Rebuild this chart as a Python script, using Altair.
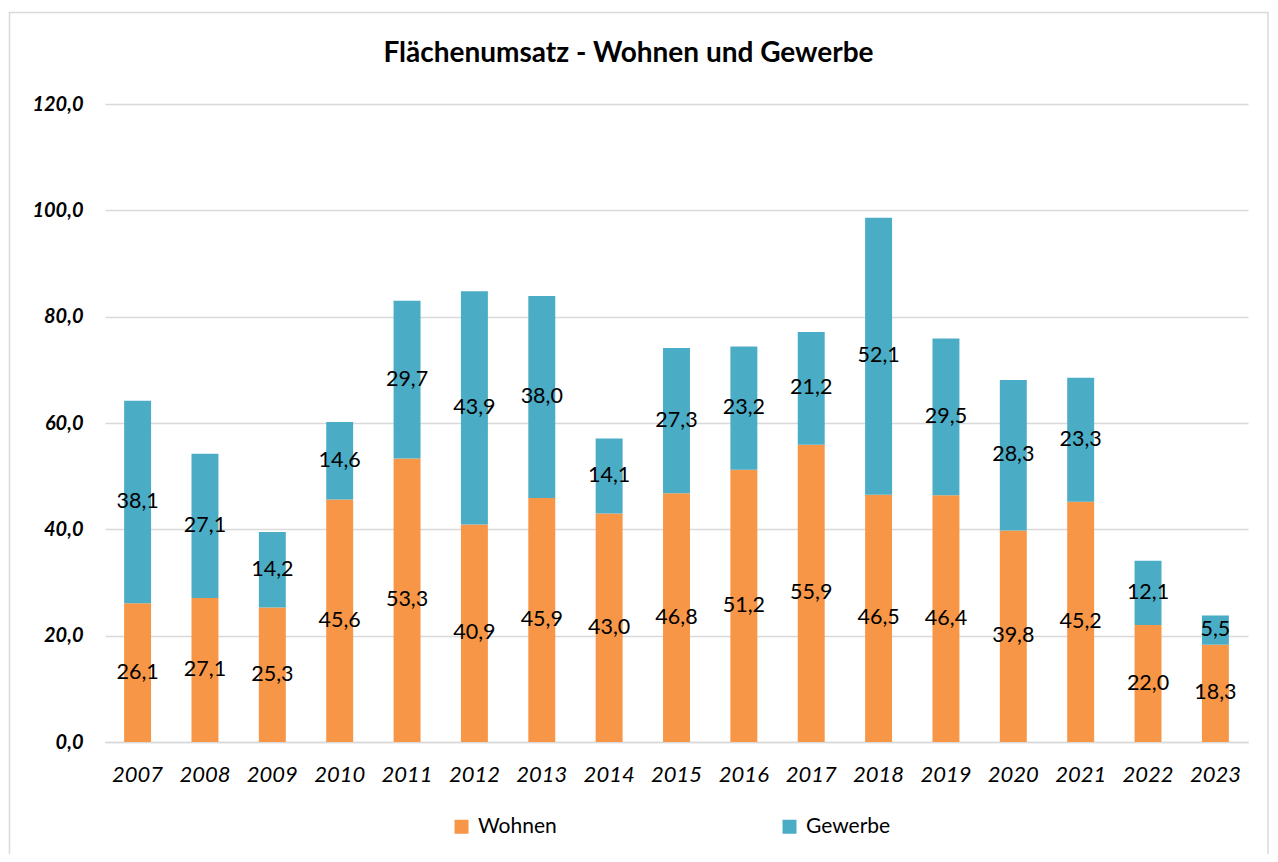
import altair as alt
import pandas as pd

years = ["2007", "2008", "2009", "2010", "2011", "2012", "2013", "2014", "2015",
         "2016", "2017", "2018", "2019", "2020", "2021", "2022", "2023"]
wohnen = [26.1, 27.1, 25.3, 45.6, 53.3, 40.9, 45.9, 43.0, 46.8,
          51.2, 55.9, 46.5, 46.4, 39.8, 45.2, 22.0, 18.3]
gewerbe = [38.1, 27.1, 14.2, 14.6, 29.7, 43.9, 38.0, 14.1, 27.3,
           23.2, 21.2, 52.1, 29.5, 28.3, 23.3, 12.1, 5.5]
series = ["Wohnen", "Gewerbe"]
colors = ["#F79646", "#4BACC6"]

rows = []
for i, y in enumerate(years):
    rows.append({"year": y, "serie": series[0], "ord": 0, "value": wohnen[i]})
    rows.append({"year": y, "serie": series[1], "ord": 1, "value": gewerbe[i]})
df = pd.DataFrame(rows)

FONT = "Lato"
W, H = 1143, 638

base = alt.Chart(df).transform_stack(
    stack="value", groupby=["year"], sort=[alt.SortField("ord")], as_=["v0", "v1"]
).transform_calculate(
    mid="(datum.v0 + datum.v1) / 2",
    lbl="replace(format(datum.value, '.1f'), '.', ',')",
)

xenc = alt.X("year:N", sort=years, title=None,
             scale=alt.Scale(paddingInner=0.6, paddingOuter=0.284),
             axis=alt.Axis(labelAngle=0, labelFont=FONT, labelFontSize=22,
                           labelFontStyle="italic", labelColor="#000000",
                           labelPadding=22, ticks=False, domainColor="#d9d9d9",
                           domainWidth=1.5, grid=False))

bars = base.mark_bar().encode(
    x=xenc,
    y=alt.Y("v0:Q", title=None,
            scale=alt.Scale(domain=[0, 120], nice=False),
            axis=alt.Axis(values=[0, 20, 40, 60, 80, 100, 120],
                          labelExpr="replace(format(datum.value, '.1f'), '.', ',')",
                          labelFont=FONT, labelFontSize=20, labelFontWeight="bold",
                          labelFontStyle="italic", labelColor="#000000",
                          labelPadding=22, ticks=False, domain=False,
                          gridColor="#d9d9d9", gridWidth=1.5)),
    y2="v1:Q",
    color=alt.Color("serie:N", scale=alt.Scale(domain=series, range=colors),
                    legend=alt.Legend(title=None, orient="none", direction="horizontal",
                                      legendX=346, legendY=712,
                                      symbolType="square", symbolSize=196,
                                      symbolStrokeWidth=0, labelFont=FONT,
                                      labelFontSize=21, labelColor="#000000",
                                      columnPadding=222, labelOffset=6)),
    order=alt.Order("ord:Q"),
)

labels = base.mark_text(font=FONT, fontSize=21.5, color="#000000", baseline="middle").encode(
    x=alt.X("year:N", sort=years),
    y=alt.Y("mid:Q"),
    text="lbl:N",
)

frame = alt.Chart(pd.DataFrame({"a": [0]})).mark_rect(
    fill=None, stroke="#d9d9d9", strokeWidth=1.5
).encode(x=alt.value(-95.5), x2=alt.value(W + 20), y=alt.value(-91.5), y2=alt.value(H + 200))

chart = alt.layer(frame, bars, labels).properties(
    width=W, height=H,
    title=alt.Title("Flächenumsatz - Wohnen und Gewerbe", font=FONT, fontSize=28,
                    fontWeight="bold", color="#000000", anchor="middle",
                    frame="group", dx=-48, offset=-56),
    autosize=alt.AutoSizeParams(type="none"),
    padding={"left": 97, "top": 96, "right": 22, "bottom": 112},
    background="white",
).configure_view(strokeWidth=0, stroke="transparent")

chart.save("out.html", embed_options={"renderer": "svg", "actions": False})
